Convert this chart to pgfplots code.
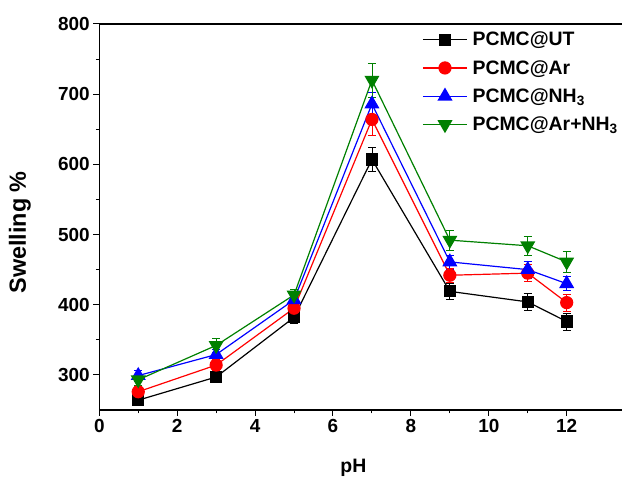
\documentclass[border=0pt]{standalone}
\usepackage{pgfplots}
\pgfplotsset{compat=1.18}
\usepackage{fontspec}
\setmainfont{Liberation Sans}

\begin{document}
\begin{tikzpicture}
  \begin{axis}[
      scale only axis,
      width=522.7bp, height=386bp,
      xmin=0, xmax=13.42,
      ymin=250, ymax=800,
      xtick={0,2,4,6,8,10,12},
      ytick={300,400,500,600,700,800},
      minor x tick num=1,
      minor y tick num=1,
      axis x line=box, axis y line=left,
      axis line style={-, line width=1.3bp},
      xtick pos=bottom, ytick pos=left,
      tick align=outside,
      major tick length=6bp, minor tick length=3.5bp,
      tick style={line width=1bp, black},
      /pgf/number format/assume math mode=true,
      ticklabel style={font=\bfseries\fontsize{19}{19}\selectfont},
      xlabel={pH},
      ylabel={Swelling \%},
      xlabel style={font=\bfseries\fontsize{19.5}{19.5}\selectfont, at={(rel axis cs:0.486,-0.117)}, anchor=north},
      ylabel style={font=\bfseries\fontsize{23.5}{23.5}\selectfont, at={(rel axis cs:-0.152,0.46)}, anchor=center},
      legend style={at={(0.612,0.99)}, anchor=north west, draw=none, fill=none,
        font=\bfseries\fontsize{19.5}{19.5}\selectfont, row sep=9bp,
        /tikz/every odd column/.append style={column sep=3bp}},
      legend cell align=left,
      legend image code/.code={
        \draw[mark repeat=2, mark phase=2, line width=1.2bp] plot coordinates {(0bp,0bp) (22bp,0bp) (44bp,0bp)};
      },
      error bars/y dir=both, error bars/y explicit,
      error bars/error bar style={line width=0.7bp},
      error bars/error mark options={rotate=90, mark size=4bp, line width=0.7bp},
    ]
    \coordinate (bl) at (rel axis cs:0,0);
    \coordinate (tr) at (rel axis cs:1,1);

    \addplot[color=black, line width=1.2bp, mark=square*, mark size=5.5bp] coordinates {
      (1,264) +- (0,8)
      (3,297) +- (0,8)
      (5,382) +- (0,8)
      (7,607) +- (0,17)
      (9,419) +- (0,12)
      (11,404) +- (0,12)
      (12,376) +- (0,12)
    };
    \addlegendentry{PCMC@UT}

    \addplot[color=red, line width=1.2bp, mark=*, mark size=6bp] coordinates {
      (1,276) +- (0,8)
      (3,314) +- (0,8)
      (5,395) +- (0,8)
      (7,664) +- (0,22)
      (9,442) +- (0,10)
      (11,445) +- (0,12)
      (12,403) +- (0,12)
    };
    \addlegendentry{PCMC@Ar}

    \addplot[color=blue, line width=1.2bp, mark=triangle*, mark size=7.5bp] coordinates {
      (1,299) +- (0,8)
      (3,329) +- (0,8)
      (5,407) +- (0,8)
      (7,686) +- (0,16)
      (9,461) +- (0,10)
      (11,450) +- (0,12)
      (12,430) +- (0,10)
    };
    \addlegendentry{PCMC@NH\textsubscript{3}}

    \addplot[color=green!50!black, line width=1.2bp, mark=triangle*, mark options={rotate=180}, mark size=7.5bp] coordinates {
      (1,293) +- (0,8)
      (3,342) +- (0,10)
      (5,414) +- (0,8)
      (7,720) +- (0,24)
      (9,492) +- (0,14)
      (11,484) +- (0,14)
      (12,461) +- (0,15)
    };
    \addlegendentry{PCMC@Ar+NH\textsubscript{3}}
  \end{axis}
  \pgfresetboundingbox
  \path[use as bounding box] ([shift={(-99.3bp,-68bp)}]bl) rectangle ([shift={(0bp,24bp)}]tr);
\end{tikzpicture}
\end{document}
